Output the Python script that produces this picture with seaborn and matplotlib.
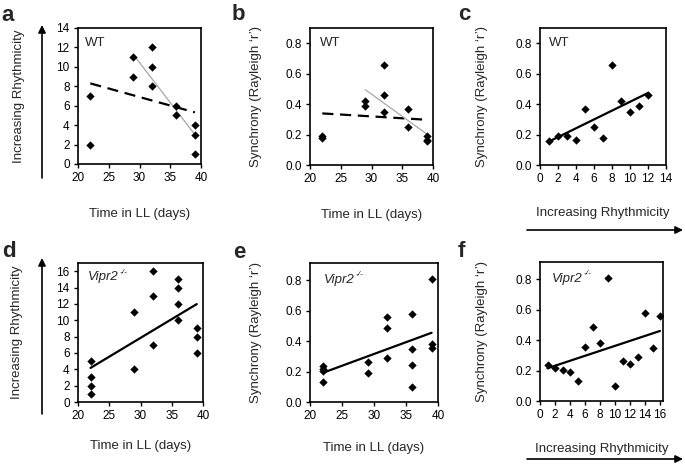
import matplotlib
matplotlib.use("Agg")
import matplotlib.pyplot as plt
import seaborn as sns
import pandas as pd
from matplotlib.patches import FancyArrowPatch
from matplotlib.ticker import FormatStrFormatter

########################################################
# Data

# WT: days in LL, rhythmicity rank, Rayleigh r
wt_days = [22, 22, 29, 29, 32, 32, 32, 36, 36, 39, 39, 39]
wt_rank = [7, 2, 11, 9, 12, 10, 8, 6, 5, 4, 3, 1]
wt_sync = [0.175, 0.19, 0.39, 0.42, 0.46, 0.345, 0.655, 0.25, 0.37, 0.165, 0.19, 0.155]

# Vipr2-/-
ko_days = [22, 22, 22, 22, 29, 29, 32, 32, 32, 36, 36, 36, 36, 39, 39, 39]
ko_rank = [5, 3, 2, 1, 11, 4, 16, 13, 7, 15, 14, 12, 10, 9, 8, 6]
ko_sync = [0.13, 0.205, 0.22, 0.24, 0.265, 0.19, 0.56, 0.29, 0.49, 0.35, 0.58, 0.245, 0.10, 0.81, 0.385, 0.355]

wt = pd.DataFrame({"dias": wt_days, "rank": wt_rank, "sync": wt_sync})
ko = pd.DataFrame({"dias": ko_days, "rank": ko_rank, "sync": ko_sync})
wt_tarde = wt[wt["dias"] >= 29]   # subset for the thin grey fit

########################################################
# Estilo geral
sns.set_style("ticks")
plt.rcParams["font.family"] = ["Liberation Sans", "DejaVu Sans"]
plt.rcParams["axes.edgecolor"] = "black"
plt.rcParams["axes.linewidth"] = 1.2
plt.rcParams["xtick.color"] = "black"
plt.rcParams["ytick.color"] = "black"
plt.rcParams["xtick.major.size"] = 3
plt.rcParams["ytick.major.size"] = 3

W, H = 685, 465
fig = plt.figure(figsize=(W / 100, H / 100), dpi=100)

TICK = 8.5
LAB = 9.5
GENO = 9.5


def painel(l, t, r, b):
    return fig.add_axes([l / W, 1 - b / H, (r - l) / W, (b - t) / H])


def pontos(ax, df, x, y):
    sns.scatterplot(data=df, x=x, y=y, ax=ax, marker="D", s=18, color="black",
                    edgecolor="black", linewidth=0, zorder=3)


def ajuste(ax, df, x, y, **kw):
    sns.regplot(data=df, x=x, y=y, ax=ax, scatter=False, ci=None, truncate=True, line_kws=kw)


def eixos(ax, xlim, xticks, ylim, yticks, yfmt=None):
    ax.set_xlim(*xlim)
    ax.set_ylim(*ylim)
    ax.set_xticks(xticks)
    ax.set_yticks(yticks)
    if yfmt:
        ax.yaxis.set_major_formatter(FormatStrFormatter(yfmt))
    ax.tick_params(labelsize=TICK, pad=3, width=1)
    for s in ax.spines.values():
        s.set_visible(True)


def genotipo(ax, x, y):
    # "Vipr2" em itálico com o sobrescrito -/- logo ao lado
    t = ax.text(x, y, "Vipr2", transform=ax.transAxes, fontsize=GENO, style="italic", va="center")
    fig.canvas.draw()
    bb = t.get_window_extent().transformed(ax.transAxes.inverted())
    ax.text(bb.x1 + 0.005, y + 0.035, "-/-", transform=ax.transAxes, fontsize=6, style="italic",
            va="center")


########################################################
# a - rhythmicity vs time (WT)
ax = painel(78, 28, 201, 164)
pontos(ax, wt, "dias", "rank")
ajuste(ax, wt, "dias", "rank", color="black", lw=1.6, ls=(0, (5, 3)))
ajuste(ax, wt_tarde, "dias", "rank", color="#a8a8a8", lw=0.9)
eixos(ax, (20, 40), range(20, 41, 5), (0, 14), range(0, 15, 2))
ax.set_xlabel("Time in LL (days)", fontsize=LAB)
ax.set_ylabel("Increasing Rhythmicity", fontsize=LAB)
ax.xaxis.set_label_coords(0.5, -0.32)
ax.yaxis.set_label_coords(-0.43, 0.5)
ax.text(0.06, 0.89, "WT", transform=ax.transAxes, fontsize=GENO, va="center")

# b - synchrony vs time (WT)
ax = painel(310, 28, 433, 165)
pontos(ax, wt, "dias", "sync")
ajuste(ax, wt, "dias", "sync", color="black", lw=1.6, ls=(0, (5, 3)))
ajuste(ax, wt_tarde, "dias", "sync", color="#a8a8a8", lw=0.9)
eixos(ax, (20, 40), range(20, 41, 5), (0, 0.9), [0, 0.2, 0.4, 0.6, 0.8], "%.1f")
ax.set_xlabel("Time in LL (days)", fontsize=LAB)
ax.set_ylabel("Synchrony (Rayleigh \u2018r\u2019)", fontsize=LAB)
ax.xaxis.set_label_coords(0.5, -0.32)
ax.yaxis.set_label_coords(-0.39, 0.5)
ax.text(0.08, 0.89, "WT", transform=ax.transAxes, fontsize=GENO, va="center")

# c - synchrony vs rhythmicity (WT)
ax = painel(540, 28, 666, 165)
pontos(ax, wt, "rank", "sync")
ajuste(ax, wt, "rank", "sync", color="black", lw=1.6)
eixos(ax, (0, 14), range(0, 15, 2), (0, 0.9), [0, 0.2, 0.4, 0.6, 0.8], "%.1f")
ax.set_xlabel("Increasing Rhythmicity", fontsize=LAB)
ax.set_ylabel("Synchrony (Rayleigh \u2018r\u2019)", fontsize=LAB)
ax.xaxis.set_label_coords(0.5, -0.31)
ax.yaxis.set_label_coords(-0.41, 0.5)
ax.text(0.07, 0.89, "WT", transform=ax.transAxes, fontsize=GENO, va="center")

# d - rhythmicity vs time (Vipr2-/-)
ax = painel(78, 263, 203, 402)
pontos(ax, ko, "dias", "rank")
ajuste(ax, ko, "dias", "rank", color="black", lw=1.6)
eixos(ax, (20, 40), range(20, 41, 5), (0, 17), range(0, 17, 2))
ax.set_xlabel("Time in LL (days)", fontsize=LAB)
ax.set_ylabel("Increasing Rhythmicity", fontsize=LAB)
ax.xaxis.set_label_coords(0.5, -0.27)
ax.yaxis.set_label_coords(-0.44, 0.5)
genotipo(ax, 0.08, 0.9)

# e - synchrony vs time (Vipr2-/-)
ax = painel(310, 263, 438, 402)
pontos(ax, ko, "dias", "sync")
ajuste(ax, ko, "dias", "sync", color="black", lw=1.6)
eixos(ax, (20, 40), range(20, 41, 5), (0, 0.915), [0, 0.2, 0.4, 0.6, 0.8], "%.1f")
ax.set_xlabel("Time in LL (days)", fontsize=LAB)
ax.set_ylabel("Synchrony (Rayleigh \u2018r\u2019)", fontsize=LAB)
ax.xaxis.set_label_coords(0.5, -0.29)
ax.yaxis.set_label_coords(-0.375, 0.5)
genotipo(ax, 0.11, 0.88)

# f - synchrony vs rhythmicity (Vipr2-/-)
ax = painel(540, 262, 663, 401)
pontos(ax, ko, "rank", "sync")
ajuste(ax, ko, "rank", "sync", color="black", lw=1.6)
eixos(ax, (0, 16.4), range(0, 17, 2), (0, 0.915), [0, 0.2, 0.4, 0.6, 0.8], "%.1f")
ax.set_xlabel("Increasing Rhythmicity", fontsize=LAB)
ax.set_ylabel("Synchrony (Rayleigh \u2018r\u2019)", fontsize=LAB)
ax.xaxis.set_label_coords(0.5, -0.30)
ax.yaxis.set_label_coords(-0.42, 0.5)
genotipo(ax, 0.10, 0.88)

########################################################
# Setas de "Increasing Rhythmicity"
seta = dict(arrowstyle="-|>", color="black", lw=1.2, mutation_scale=11, shrinkA=0, shrinkB=0)
segmentos = [((42, 178), (42, 25)), ((42, 414), (42, 258)),
             ((527, 230), (683, 230)), ((527, 459), (683, 459))]
for (x0, y0), (x1, y1) in segmentos:
    fig.add_artist(FancyArrowPatch((x0 / W, 1 - y0 / H), (x1 / W, 1 - y1 / H),
                                   transform=fig.transFigure, **seta))

# Letras dos painéis
letras = ["a", "b", "c", "d", "e", "f"]
pos_letras = [(1, 21), (232, 20), (458, 20), (2, 257), (233, 258), (458, 257)]
for letra, (px, py) in zip(letras, pos_letras):
    fig.text(px / W, 1 - py / H, letra, fontsize=16, fontweight="bold", va="baseline", ha="left")

fig.savefig("out.png", dpi=100)
